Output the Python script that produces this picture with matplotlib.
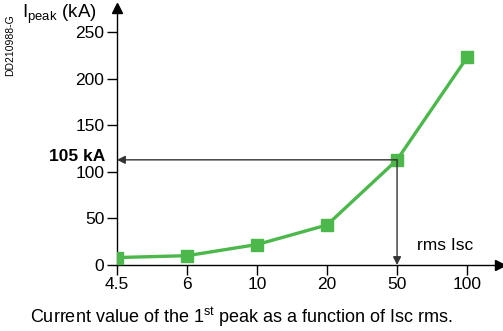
import matplotlib.pyplot as plt

plt.rcParams['font.family'] = 'Liberation Sans'
plt.rcParams['mathtext.fontset'] = 'custom'
plt.rcParams['mathtext.rm'] = 'Liberation Sans'
plt.rcParams['mathtext.it'] = 'Liberation Sans'

# Données
isc_labels = ['4.5', '6', '10', '20', '50', '100']
ipeak = [8, 10, 22, 43, 113, 223]
y_ticks = [0, 50, 100, 150, 200, 250]
marked_idx = 4          # point 50 kA rms
marked_label = '105 kA'

green = '#4cb84c'

fig = plt.figure(figsize=(5.03, 3.31), dpi=100)
ax = fig.add_axes([0.2326, 0.1994, 0.7614, 0.776])

x = list(range(len(isc_labels)))
ax.plot(x, ipeak, color=green, lw=2.4, marker='s', ms=8, zorder=3)

ax.set_xlim(0, 5.47)
ax.set_ylim(0, 276)
ax.set_xticks(x)
ax.set_xticklabels(isc_labels)
ax.set_yticks(y_ticks)
ax.tick_params(labelsize=12.5, length=7, width=1, direction='out', pad=2)

for s in ['top', 'right']:
    ax.spines[s].set_visible(False)
for s in ['left', 'bottom']:
    ax.spines[s].set_linewidth(1)

# flèches des axes
ax.plot(1, 0, '>k', ms=7, transform=ax.transAxes, clip_on=False)
ax.plot(0, 1, '^k', ms=7, transform=ax.transAxes, clip_on=False)

# lecture du point 50 kA
xm, ym = x[marked_idx], ipeak[marked_idx]
ax.annotate('', xy=(0, ym), xytext=(xm, ym),
            arrowprops=dict(arrowstyle='-|>', color='#333333', lw=1, mutation_scale=12,
                            shrinkA=0, shrinkB=0))
ax.annotate('', xy=(xm, 0), xytext=(xm, ym),
            arrowprops=dict(arrowstyle='-|>', color='#333333', lw=1, mutation_scale=12,
                            shrinkA=0, shrinkB=0))
fig.text(105 / 503, 1 - 156 / 331, marked_label, fontsize=12.5, fontweight='bold',
         ha='right', va='center')

fig.text(417 / 503, 1 - 246 / 331, 'rms Isc', fontsize=12.5, ha='left', va='center')
fig.text(22 / 503, 1 - 18 / 331, r'I$_{\rm peak}$ (kA)', fontsize=13.5, ha='left', va='baseline')
fig.text(10 / 503, 1 - 45 / 331, 'DD210988-G', fontsize=7.5, rotation=90, ha='center', va='center')

fig.text(241 / 503, 1 - 317 / 331, r'Current value of the 1$^{\rm st}$ peak as a function of Isc rms.',
         fontsize=13, ha='center', va='center')

fig.savefig('out.png', dpi=100)
